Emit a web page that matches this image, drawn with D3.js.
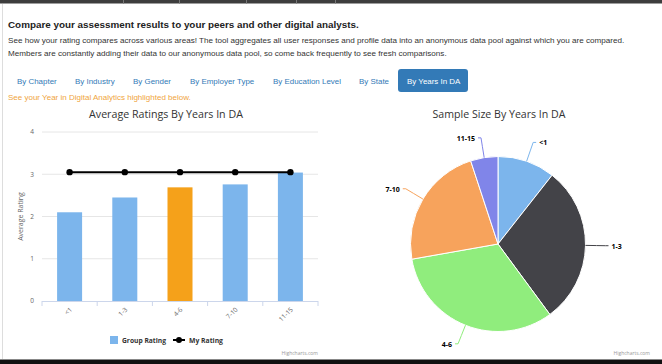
<!DOCTYPE html>
<html>
<head>
<meta charset="utf-8">
<script src="https://cdn.jsdelivr.net/npm/d3@7"></script>
<style>
  body { margin: 0; background: #fff; }
  svg { display: block; }
</style>
</head>
<body>
<svg id="page"></svg>
<script>
const categories = ['<1', '1-3', '4-6', '7-10', '11-15']
const groupRating = [2.10, 2.45, 2.69, 2.76, 3.04]
const myRating = [3.05, 3.05, 3.05, 3.05, 3.05]
const myCategory = '4-6'
const sampleSize = [21, 58, 64, 45, 10]
const yTicks = [0, 1, 2, 3, 4]
const tabs = ['By Chapter', 'By Industry', 'By Gender', 'By Employer Type', 'By Education Level', 'By State', 'By Years In DA']
const activeTab = 'By Years In DA'

const W = 662, H = 364
const pageFont = '"Liberation Sans", Arial, sans-serif'
const chartFont = '"Open Sans", "DejaVu Sans", sans-serif'
const pieColors = ['#7cb5ec', '#434348', '#90ed7d', '#f7a35c', '#8085e9']

const svg = d3.select('#page').attr('width', W).attr('height', H)

// scale the font of one or more texts (same size for all) so their total width matches
function fit(sel, w) {
  let len = 0
  sel.each(function () { len += this.getComputedTextLength() })
  let fs = parseFloat(sel.attr('font-size'))
  sel.attr('font-size', (fs * w / len).toFixed(2))
  return sel
}

/* page frame */
svg.append('rect').attr('width', W).attr('height', H).attr('fill', '#fff')
svg.append('rect').attr('width', W).attr('height', 3.5).attr('fill', '#3d3d3d')
;[123, 179, 246, 296, 335].forEach(x => {
  svg.append('rect').attr('x', x).attr('y', 0).attr('width', 1).attr('height', 3.5).attr('fill', '#777')
})
svg.append('line').attr('x1', 2.5).attr('x2', 2.5).attr('y1', 4).attr('y2', 359)
  .attr('stroke', '#ddd')
svg.append('rect').attr('y', 359).attr('width', W).attr('height', 1).attr('fill', '#888')
svg.append('rect').attr('y', 360).attr('width', W).attr('height', 4).attr('fill', '#111')

/* heading + intro */
fit(svg.append('text').attr('x', 8).attr('y', 28)
  .attr('font-family', pageFont).attr('font-weight', 'bold').attr('font-size', 10)
  .attr('fill', '#222')
  .text('Compare your assessment results to your peers and other digital analysts.'), 351)

let intro = svg.append('g').attr('font-family', pageFont).attr('fill', '#333')
let line1 = intro.append('text').attr('x', 8).attr('y', 43).attr('font-size', 8)
  .text('See how your rating compares across various areas! The tool aggregates all user responses and profile data into an anonymous data pool against which you are compared.')
fit(line1, 617)
intro.append('text').attr('x', 8).attr('y', 56).attr('font-size', line1.attr('font-size'))
  .text('Members are constantly adding their data to our anonymous data pool, so come back frequently to see fresh comparisons.')

/* tabs */
let tabX = [17, 75, 133, 190, 273, 359, 407]
let tabW = [38, 40, 39, 65, 68, 30, 53]
svg.append('rect').attr('x', 398).attr('y', 69).attr('width', 70).attr('height', 23)
  .attr('rx', 3).attr('fill', '#337ab7')
let tabText = svg.append('g').selectAll('text')
  .data(tabs)
  .join('text')
    .attr('x', (d, i) => tabX[i]).attr('y', 84)
    .attr('font-family', pageFont).attr('font-size', 8.5)
    .attr('fill', d => d === activeTab ? '#fff' : '#337ab7')
    .text(d => d)
fit(tabText, d3.sum(tabW))

fit(svg.append('text').attr('x', 8).attr('y', 100)
  .attr('font-family', pageFont).attr('font-size', 7.5).attr('fill', '#f0a53e')
  .text('See your Year in Digital Analytics highlighted below.'), 183)

/* ---------- bar chart ---------- */
let plotLeft = 42, plotRight = 318, plotTop = 132, plotBottom = 301

let xScale = d3.scaleBand()
  .domain(categories)
  .range([plotLeft, plotRight])
  .paddingInner(0.547)
  .paddingOuter(0.2735)

let yScale = d3.scaleLinear()
  .domain([0, 4])
  .range([plotBottom, plotTop])

fit(svg.append('text').attr('x', 166).attr('y', 118)
  .attr('text-anchor', 'middle').attr('font-family', chartFont).attr('font-size', 11)
  .attr('fill', '#333').text('Average Ratings By Years In DA'), 154)

/* grid */
svg.append('g')
  .selectAll('line')
  .data(yTicks.filter(d => d > 0))
  .join('line')
    .attr('x1', plotLeft).attr('x2', plotRight)
    .attr('y1', d => yScale(d)).attr('y2', d => yScale(d))
    .attr('stroke', '#e6e6e6')

/* y axis labels */
let yAxis = d3.axisLeft(yScale).tickValues(yTicks).tickFormat(d3.format('d'))
  .tickSize(0).tickPadding(8)
let yG = svg.append('g').attr('transform', `translate(${plotLeft}, 0)`).call(yAxis)
yG.select('.domain').remove()
yG.selectAll('text').attr('font-family', chartFont).attr('font-size', 6.5).attr('fill', '#666')
  .attr('dy', '0.3em')

svg.append('text')
  .attr('transform', `translate(23, ${yScale(2)}) rotate(-90)`)
  .attr('text-anchor', 'middle').attr('font-family', chartFont).attr('font-size', 7)
  .attr('fill', '#666').text('Average Rating')

/* bars */
svg.append('g')
  .selectAll('rect')
  .data(categories)
  .join('rect')
    .attr('x', d => xScale(d))
    .attr('y', (d, i) => yScale(groupRating[i]))
    .attr('width', xScale.bandwidth())
    .attr('height', (d, i) => plotBottom - yScale(groupRating[i]))
    .attr('fill', d => d === myCategory ? '#f5a11a' : '#7cb5ec')

/* x axis */
let step = xScale.step()
svg.append('line').attr('x1', plotLeft).attr('x2', plotRight)
  .attr('y1', plotBottom + 0.5).attr('y2', plotBottom + 0.5)
  .attr('stroke', '#ccd6eb')
svg.append('g')
  .selectAll('line')
  .data(d3.range(categories.length + 1))
  .join('line')
    .attr('x1', i => plotLeft + i * step).attr('x2', i => plotLeft + i * step)
    .attr('y1', plotBottom).attr('y2', plotBottom + 5)
    .attr('stroke', '#ccd6eb')

svg.append('g')
  .selectAll('text')
  .data(categories)
  .join('text')
    .attr('transform', d => `translate(${xScale(d) + xScale.bandwidth() / 2 + 3}, ${plotBottom + 9}) rotate(-45)`)
    .attr('text-anchor', 'end')
    .attr('font-family', chartFont).attr('font-size', 6.5).attr('fill', '#666')
    .text(d => d)

/* my rating line */
let cx = d => xScale(d) + xScale.bandwidth() / 2
let line = d3.line().x(d => cx(d)).y((d, i) => yScale(myRating[i]))
svg.append('path').datum(categories).attr('d', line)
  .attr('fill', 'none').attr('stroke', '#000').attr('stroke-width', 2)
svg.append('g')
  .selectAll('circle')
  .data(categories)
  .join('circle')
    .attr('cx', cx).attr('cy', (d, i) => yScale(myRating[i])).attr('r', 3.2)
    .attr('fill', '#000')

/* legend */
svg.append('rect').attr('x', 110).attr('y', 336).attr('width', 8).attr('height', 8)
  .attr('fill', '#7cb5ec')
fit(svg.append('text').attr('x', 122).attr('y', 343)
  .attr('font-family', chartFont).attr('font-weight', 'bold').attr('font-size', 7.5)
  .attr('fill', '#333').text('Group Rating'), 44)
svg.append('line').attr('x1', 173).attr('x2', 185).attr('y1', 340).attr('y2', 340)
  .attr('stroke', '#000').attr('stroke-width', 2)
svg.append('circle').attr('cx', 179).attr('cy', 340).attr('r', 3).attr('fill', '#000')
fit(svg.append('text').attr('x', 189).attr('y', 343)
  .attr('font-family', chartFont).attr('font-weight', 'bold').attr('font-size', 7.5)
  .attr('fill', '#333').text('My Rating'), 34)

svg.append('text').attr('x', 318).attr('y', 355).attr('text-anchor', 'end')
  .attr('font-family', chartFont).attr('font-size', 5).attr('fill', '#999').text('Highcharts.com')

/* ---------- pie chart ---------- */
let pcx = 498, pcy = 244, radius = 87.5

fit(svg.append('text').attr('x', 499).attr('y', 118)
  .attr('text-anchor', 'middle').attr('font-family', chartFont).attr('font-size', 11)
  .attr('fill', '#333').text('Sample Size By Years In DA'), 133)

let pie = d3.pie().sort(null).value(d => d)
let arcs = pie(sampleSize)
let arc = d3.arc().innerRadius(0).outerRadius(radius)

let pieG = svg.append('g').attr('transform', `translate(${pcx}, ${pcy})`)
pieG.selectAll('path')
  .data(arcs)
  .join('path')
    .attr('d', arc)
    .attr('fill', (d, i) => pieColors[i])
    .attr('stroke', '#fff').attr('stroke-width', 1)

let polar = (a, r) => [Math.sin(a) * r, -Math.cos(a) * r]

arcs.forEach((d, i) => {
  let mid = (d.startAngle + d.endAngle) / 2
  let edge = polar(mid, radius)
  let ctrl = polar(mid, radius + 12)
  let lab = polar(mid, radius + 20)
  let dir = lab[0] >= 0 ? 1 : -1
  pieG.append('path')
    .attr('d', `M${edge[0]},${edge[1]} Q${ctrl[0]},${ctrl[1]} ${lab[0]},${lab[1]} L${lab[0] + dir * 3},${lab[1]}`)
    .attr('fill', 'none').attr('stroke', pieColors[i]).attr('stroke-width', 1)
  pieG.append('text')
    .attr('x', lab[0] + dir * 6).attr('y', lab[1] + 3)
    .attr('text-anchor', dir > 0 ? 'start' : 'end')
    .attr('font-family', chartFont).attr('font-weight', 'bold').attr('font-size', 7)
    .attr('fill', '#000').text(categories[i])
})

svg.append('text').attr('x', 650).attr('y', 355).attr('text-anchor', 'end')
  .attr('font-family', chartFont).attr('font-size', 5).attr('fill', '#999').text('Highcharts.com')
</script>
</body>
</html>
